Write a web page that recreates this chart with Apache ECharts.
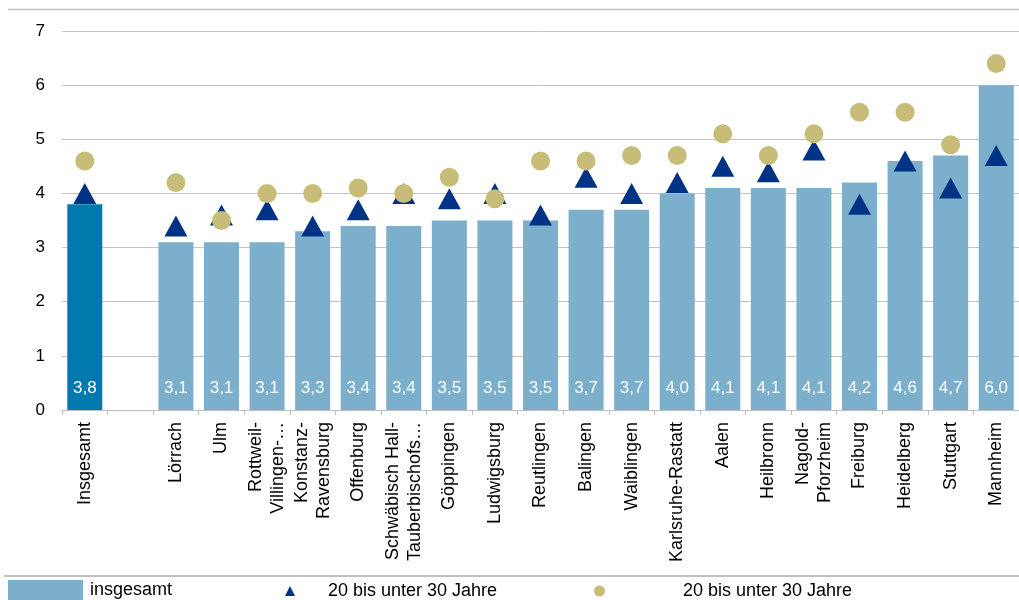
<!DOCTYPE html>
<html>
<head>
<meta charset="utf-8">
<script src="https://cdn.jsdelivr.net/npm/echarts@6/dist/echarts.min.js"></script>
<style>
html,body{margin:0;padding:0;background:#fff;}
#chart{width:1019px;height:600px;}
</style>
</head>
<body>
<div id="chart"></div>
<script>
var categories = ['Insgesamt', '', 'Lörrach', 'Ulm', 'Rottweil-\nVillingen-…', 'Konstanz-\nRavensburg', 'Offenburg', 'Schwäbisch Hall-\nTauberbischofs…', 'Göppingen', 'Ludwigsburg', 'Reutlingen', 'Balingen', 'Waiblingen', 'Karlsruhe-Rastatt', 'Aalen', 'Heilbronn', 'Nagold-\nPforzheim', 'Freiburg', 'Heidelberg', 'Stuttgart', 'Mannheim'];
var insgesamt = [3.8, null, 3.1, 3.1, 3.1, 3.3, 3.4, 3.4, 3.5, 3.5, 3.5, 3.7, 3.7, 4.0, 4.1, 4.1, 4.1, 4.2, 4.6, 4.7, 6.0];
var triangleValues = [4.0, null, 3.4, 3.6, 3.7, 3.4, 3.7, 4.0, 3.9, 4.0, 3.6, 4.3, 4.0, 4.2, 4.5, 4.4, 4.8, 3.8, 4.6, 4.1, 4.7];
var circleValues = [4.6, null, 4.2, 3.5, 4.0, 4.0, 4.1, 4.0, 4.3, 3.9, 4.6, 4.6, 4.7, 4.7, 5.1, 4.7, 5.1, 5.5, 5.5, 4.9, 6.4];
var yTicks = [0, 1, 2, 3, 4, 5, 6, 7];
var legendLabel = '20 bis unter 30 Jahre';

var FONT = 'Liberation Sans, Arial, sans-serif';
var barData = insgesamt.map(function (v, i) {
  if (v === null) return '-';
  if (i === 0) return { value: v, itemStyle: { color: '#0079ad' } };
  return v;
});
function toData(arr) { return arr.map(function (v) { return v === null ? '-' : v; }); }

var chart = echarts.init(document.getElementById('chart'), null, { renderer: 'canvas' });
chart.setOption({
  animation: false,
  backgroundColor: '#ffffff',
  textStyle: { fontFamily: FONT },
  grid: { left: 62, right: 0, top: 31, bottom: 190, containLabel: false },
  graphic: [
    { type: 'line', shape: { x1: 8, y1: 9.5, x2: 1019, y2: 9.5 }, style: { stroke: '#c0c0c0', lineWidth: 1.5 } },
    { type: 'line', shape: { x1: 4, y1: 576, x2: 1019, y2: 576 }, style: { stroke: '#c0c0c0', lineWidth: 2 } }
  ],
  xAxis: {
    type: 'category',
    data: categories,
    axisLine: { lineStyle: { color: '#bfbfbf', width: 1 } },
    axisTick: { show: true, length: 5, lineStyle: { color: '#bfbfbf' } },
    axisLabel: {
      rotate: 90, interval: 0, margin: 12, color: '#000', fontSize: 18,
      fontFamily: FONT, lineHeight: 22
    }
  },
  yAxis: {
    type: 'value', min: 0, max: 7, interval: 1,
    axisLine: { show: false }, axisTick: { show: false },
    splitLine: { lineStyle: { color: '#c4c4c4', width: 1 } },
    axisLabel: {
      color: '#000', fontSize: 17, margin: 17, fontFamily: FONT,
      formatter: function (v) { return yTicks.indexOf(v) >= 0 ? String(v) : ''; }
    }
  },
  legend: [
    {
      left: 8, top: 580, padding: 0, itemWidth: 75, itemHeight: 20, itemGap: 0,
      data: [{ name: 'insgesamt', icon: 'rect' }],
      textStyle: { fontSize: 18, color: '#000', fontFamily: FONT, padding: [0, 0, 0, 2] }
    },
    {
      left: 285, top: 582, padding: 0, itemWidth: 10, itemHeight: 10,
      data: [{ name: 'm', icon: 'triangle' }],
      formatter: function () { return legendLabel; },
      textStyle: { fontSize: 18, color: '#000', fontFamily: FONT, padding: [0, 0, 0, 28] }
    },
    {
      left: 594, top: 582, padding: 0, itemWidth: 11, itemHeight: 11,
      data: [{ name: 'w', icon: 'circle' }],
      formatter: function () { return legendLabel; },
      textStyle: { fontSize: 18, color: '#000', fontFamily: FONT, padding: [0, 0, 0, 73] }
    }
  ],
  series: [
    {
      name: 'insgesamt', type: 'bar', data: barData, barWidth: 35,
      itemStyle: { color: '#7bafcb' },
      label: {
        show: true, position: 'insideBottom', distance: 13, color: '#fff', fontSize: 17,
        fontFamily: FONT,
        formatter: function (p) { return Number(p.value).toFixed(1).replace('.', ','); }
      },
      z: 1
    },
    {
      name: 'm', type: 'scatter', data: toData(triangleValues),
      symbol: 'triangle', symbolSize: [23, 21],
      itemStyle: { color: '#003386', opacity: 1 }, z: 2
    },
    {
      name: 'w', type: 'scatter', data: toData(circleValues),
      symbol: 'circle', symbolSize: 19,
      itemStyle: { color: '#c8bd78', opacity: 1 }, z: 3
    }
  ]
});
</script>
</body>
</html>
